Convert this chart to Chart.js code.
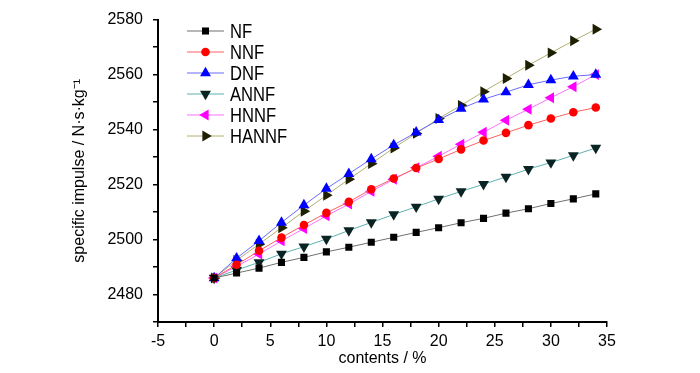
<!DOCTYPE html>
<html>
<head>
<meta charset="utf-8">
<script src="https://cdn.jsdelivr.net/npm/chart.js@4/dist/chart.umd.min.js"></script>
<style>
  html, body { margin: 0; padding: 0; background: #fff; }
  #wrap { width: 700px; height: 373px; }
</style>
</head>
<body>
<div id="wrap"><canvas id="impulseChart"></canvas></div>
<script>
// contents (%) and specific impulse (N·s/kg)
const contents = [0, 2, 4, 6, 8, 10, 12, 14, 16, 18, 20, 22, 24, 26, 28, 30, 32, 34];
const nfValues    = [2486, 2487.8, 2489.6, 2491.7, 2493.5, 2495.5, 2497.2, 2499.0, 2500.8, 2502.6, 2504.3, 2506.1, 2507.7, 2509.6, 2511.2, 2513.1, 2514.8, 2516.6];
const nnfValues   = [2486, 2490.8, 2495.9, 2500.7, 2505.3, 2509.7, 2513.7, 2518.3, 2522.2, 2526.0, 2529.3, 2532.8, 2536.0, 2538.8, 2541.6, 2544.0, 2546.3, 2548.0];
const dnfValues   = [2486, 2493.2, 2499.5, 2506.2, 2512.5, 2518.5, 2523.9, 2529.3, 2534.4, 2539.0, 2543.5, 2547.6, 2551.0, 2553.6, 2556.3, 2558.0, 2559.4, 2560.0];
const annfValues  = [2486, 2488.9, 2491.7, 2494.8, 2497.4, 2500.2, 2503.3, 2506.2, 2509.1, 2511.9, 2514.8, 2517.5, 2520.1, 2522.8, 2525.6, 2528.0, 2530.6, 2533.3];
const hnnfValues  = [2486, 2490.2, 2494.7, 2499.5, 2504.0, 2508.6, 2512.9, 2517.5, 2521.9, 2526.1, 2530.3, 2534.7, 2539.0, 2543.4, 2547.4, 2551.6, 2555.6, 2560.0];
const hannfValues = [2486, 2492.4, 2498.3, 2504.3, 2510.3, 2516.1, 2521.9, 2527.6, 2533.3, 2538.6, 2544.0, 2548.8, 2553.8, 2558.6, 2563.4, 2567.9, 2572.3, 2576.5];

const seriesNames = ['NF', 'NNF', 'DNF', 'ANNF', 'HNNF', 'HANNF'];
const xTickLabels = [-5, 0, 5, 10, 15, 20, 25, 30, 35];
const yTickLabels = [2480, 2500, 2520, 2540, 2560, 2580];

const FONT = "'Liberation Sans', Arial, sans-serif";

function makeSeries(name, values, lineColor, markColor, style, rotation, radius) {
    return {
        label: name,
        data: contents.map((x, i) => ({ x: x, y: values[i] })),
        borderColor: lineColor,
        borderWidth: 1,
        backgroundColor: markColor,
        pointBackgroundColor: markColor,
        pointBorderColor: markColor,
        pointBorderWidth: 0,
        pointStyle: style,
        rotation: rotation,
        pointRadius: radius,
        tension: 0
    };
}

const datasets = [
    makeSeries(seriesNames[0], nfValues, '#707070', '#000000', 'rect', 0, 5),
    makeSeries(seriesNames[1], nnfValues, '#ff6060', '#ff0000', 'circle', 0, 4.3),
    makeSeries(seriesNames[2], dnfValues, '#6a6aff', '#0000ff', 'triangle', 0, 6.3),
    makeSeries(seriesNames[3], annfValues, '#5fb0b0', '#0a2424', 'triangle', 180, 6.3),
    makeSeries(seriesNames[4], hnnfValues, '#ff70ff', '#ff00ff', 'triangle', 270, 6.3),
    makeSeries(seriesNames[5], hannfValues, '#b0b070', '#1e1e00', 'triangle', 90, 6.3)
];

// legend drawn inside the plot, top-left, like the original figure
const insideLegend = {
    id: 'insideLegend',
    afterDraw(chart) {
        const ctx = chart.ctx;
        const x0 = 187, x1 = 224, xt = 230;
        const yStart = 31, step = 21;
        ctx.save();
        chart.data.datasets.forEach((ds, i) => {
            const y = yStart + i * step;
            ctx.strokeStyle = ds.borderColor;
            ctx.lineWidth = 1;
            ctx.beginPath();
            ctx.moveTo(x0, y);
            ctx.lineTo(x1, y);
            ctx.stroke();
            ctx.fillStyle = ds.pointBackgroundColor;
            ctx.strokeStyle = ds.pointBorderColor;
            Chart.helpers.drawPoint(ctx, {
                pointStyle: ds.pointStyle,
                rotation: ds.rotation,
                radius: ds.pointRadius,
                borderWidth: 0
            }, (x0 + x1) / 2, y);
            // the original uses a condensed face, squeeze the text a bit
            ctx.save();
            ctx.translate(xt, y + 1);
            ctx.scale(0.83, 1);
            ctx.fillStyle = '#000';
            ctx.font = '20px ' + FONT;
            ctx.textBaseline = 'middle';
            ctx.textAlign = 'left';
            ctx.fillText(ds.label, 0, 0);
            ctx.restore();
        });
        ctx.restore();
    }
};

const ctx = document.getElementById('impulseChart').getContext('2d');
new Chart(ctx, {
    type: 'line',
    data: { datasets: datasets },
    options: {
        responsive: true,
        maintainAspectRatio: false,
        animation: false,
        layout: { padding: { left: 63, right: 93, top: 18, bottom: 0 } },
        plugins: {
            legend: { display: false },
            tooltip: { enabled: false }
        },
        scales: {
            x: {
                type: 'linear',
                min: -5,
                max: 35,
                grid: { drawOnChartArea: false, color: '#000', tickLength: 5, lineWidth: 1.5 },
                border: { color: '#000', width: 2 },
                ticks: {
                    stepSize: 2.5,
                    autoSkip: false,
                    maxRotation: 0,
                    color: '#000',
                    padding: 5,
                    font: { family: FONT, size: 16 },
                    callback: v => xTickLabels.includes(v) ? String(v) : ''
                },
                title: {
                    display: true,
                    text: 'contents / %',
                    color: '#000',
                    padding: { top: 1, bottom: 5 },
                    font: { family: FONT, size: 16 }
                },
                afterFit: scale => { scale.height = 51; }
            },
            y: {
                type: 'linear',
                min: 2470,
                max: 2580,
                grid: { drawOnChartArea: false, color: '#000', tickLength: 5, lineWidth: 1.5 },
                border: { color: '#000', width: 2 },
                ticks: {
                    stepSize: 10,
                    autoSkip: false,
                    color: '#000',
                    padding: 10,
                    font: { family: FONT, size: 16 },
                    callback: v => yTickLabels.includes(v) ? String(v) : ''
                },
                title: {
                    display: true,
                    text: 'specific impulse / N·s·kg⁻¹',
                    color: '#000',
                    padding: { top: 7, bottom: 0 },
                    font: { family: FONT, size: 16 }
                },
                afterFit: scale => { scale.width = 95; }
            }
        }
    },
    plugins: [insideLegend]
});
</script>
</body>
</html>
